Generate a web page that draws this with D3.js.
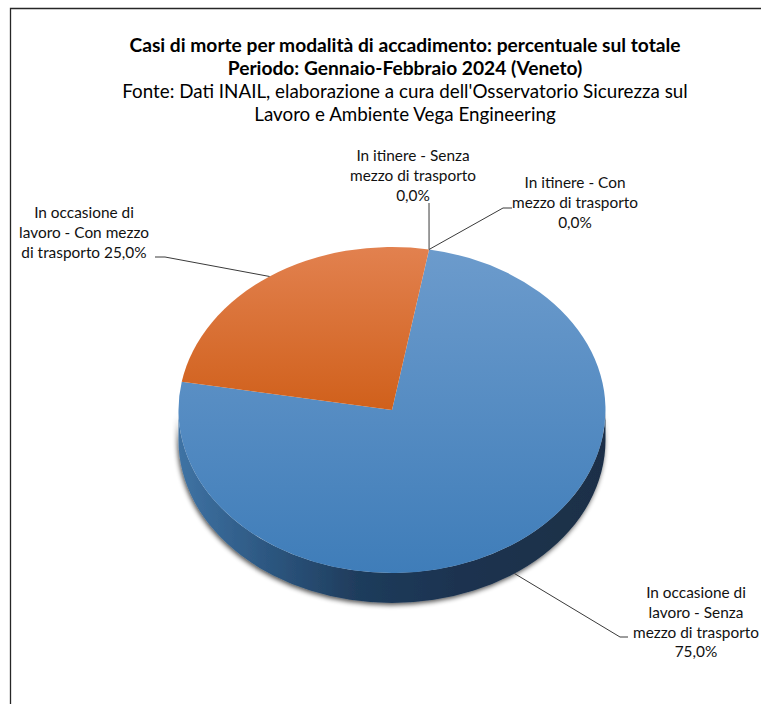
<!DOCTYPE html>
<html>
<head>
<meta charset="utf-8">
<script src="https://cdn.jsdelivr.net/npm/d3@7/dist/d3.min.js"></script>
<style>
  html, body { margin: 0; padding: 0; background: #fff; }
  svg { display: block; }
  text { font-family: Lato, "Noto Sans", sans-serif; }
</style>
</head>
<body>
<svg id="chart" width="761" height="704"></svg>
<script>
// ---------- DATA ----------
const categories = [
  "In occasione di lavoro - Senza mezzo di trasporto",
  "In occasione di lavoro - Con mezzo di trasporto",
  "In itinere - Senza mezzo di trasporto",
  "In itinere - Con mezzo di trasporto"
];
const values = [75, 25, 0, 0];
// label text broken the way the original wraps it; {p} = percentage
const labelWraps = [
  ["In occasione di", "lavoro - Senza", "mezzo di trasporto", "{p}"],
  ["In occasione di", "lavoro - Con mezzo", "di trasporto {p}"],
  ["In itinere - Senza", "mezzo di trasporto", "{p}"],
  ["In itinere - Con", "mezzo di trasporto", "{p}"]
];
const titleLines = [
  "Casi di morte per modalità di accadimento: percentuale sul totale",
  "Periodo: Gennaio-Febbraio 2024 (Veneto)",
  "Fonte: Dati INAIL, elaborazione a cura dell'Osservatorio Sicurezza sul",
  "Lavoro e Ambiente Vega Engineering"
];

// ---------- LAYOUT ----------
const W = 761, H = 704;
const cx = 392, cy = 410, rx = 213.5, ry = 163, depth = 30;
const startDeg = 10;
const svg = d3.select("#chart");

// frame (top + left border)
svg.append("path").attr("d", `M10.5,${H} L10.5,8.5 L${W},8.5`)
  .attr("fill", "none").attr("stroke", "#262626").attr("stroke-width", 1.3);

// title
const titleG = svg.append("g").attr("text-anchor", "middle").attr("fill", "#000");
const titleBase = [52, 75, 98, 121];
titleLines.forEach((t, i) => {
  titleG.append("text").attr("x", 405).attr("y", titleBase[i])
    .attr("font-size", i < 2 ? 19.2 : 18.8)
    .attr("font-weight", i < 2 ? "bold" : "normal")
    .text(t);
});

// colours
const topColors = d3.scaleOrdinal().domain(categories)
  .range([["#6C9BCC", "#3F7DB9"], ["#E2814F", "#D0601B"], ["#9BBB59", "#9BBB59"], ["#8064A2", "#8064A2"]]);

const defs = svg.append("defs");
categories.forEach((c, i) => {
  const g = defs.append("linearGradient").attr("id", "top" + i)
    .attr("x1", 0).attr("y1", 0).attr("x2", 0).attr("y2", 1);
  g.append("stop").attr("offset", 0).attr("stop-color", topColors(c)[0]);
  g.append("stop").attr("offset", 1).attr("stop-color", topColors(c)[1]);
});
const sideGrad = defs.append("linearGradient").attr("id", "side")
  .attr("gradientUnits", "userSpaceOnUse")
  .attr("x1", cx - rx).attr("x2", cx + rx).attr("y1", 0).attr("y2", 0);
[[0, "#3F73A4"], [0.2, "#2D5882"], [0.42, "#1F3C5C"], [0.65, "#1B3350"], [1, "#1A2F47"]]
  .forEach(([o, c]) => sideGrad.append("stop").attr("offset", o).attr("stop-color", c));
const shadow = defs.append("filter").attr("id", "shadow")
  .attr("x", "-10%").attr("y", "-10%").attr("width", "120%").attr("height", "130%");
shadow.append("feGaussianBlur").attr("in", "SourceAlpha").attr("stdDeviation", 2.6).attr("result", "b");
shadow.append("feOffset").attr("in", "b").attr("dx", -1).attr("dy", 2).attr("result", "o");
shadow.append("feComponentTransfer").attr("in", "o").attr("result", "s")
  .append("feFuncA").attr("type", "linear").attr("slope", 0.7);
const merge = shadow.append("feMerge");
merge.append("feMergeNode").attr("in", "s");
merge.append("feMergeNode").attr("in", "SourceGraphic");

// pie layout
const total = d3.sum(values);
const pie = d3.pie().sort(null).value(d => d)
  .startAngle(startDeg * Math.PI / 180).endAngle((startDeg + 360) * Math.PI / 180);
const arcs = pie(values);

const px = a => cx + rx * Math.sin(a);
const py = (a, dz = 0) => cy - ry * Math.cos(a) + dz;

function topPath(d) {
  if (d.endAngle - d.startAngle <= 0) return "";
  const large = d.endAngle - d.startAngle > Math.PI ? 1 : 0;
  return `M${cx},${cy} L${px(d.startAngle)},${py(d.startAngle)} ` +
    `A${rx},${ry} 0 ${large} 1 ${px(d.endAngle)},${py(d.endAngle)} Z`;
}
// visible outer wall: the part of each slice in the front half (90°..270°)
function sidePath(d) {
  const fa = Math.PI / 2, fb = 3 * Math.PI / 2;
  const segs = [];
  for (const k of [0, 2 * Math.PI]) {
    const a0 = Math.max(d.startAngle, fa + k), a1 = Math.min(d.endAngle, fb + k);
    if (a1 > a0) segs.push([a0, a1]);
  }
  return segs.map(([a0, a1]) => {
    const large = a1 - a0 > Math.PI ? 1 : 0;
    return `M${px(a0)},${py(a0)} A${rx},${ry} 0 ${large} 1 ${px(a1)},${py(a1)} ` +
      `L${px(a1)},${py(a1, depth)} A${rx},${ry} 0 ${large} 0 ${px(a0)},${py(a0, depth)} Z`;
  }).join(" ");
}

const pieG = svg.append("g");
pieG.append("g").attr("filter", "url(#shadow)")
  .selectAll("path").data(arcs).join("path")
  .attr("d", sidePath).attr("fill", "url(#side)");
pieG.append("g").selectAll("path").data(arcs).join("path")
  .attr("d", topPath).attr("fill", (d, i) => `url(#top${i})`);

// labels
const fmt = v => d3.format(".1f")(v / total * 100).replace(".", ",") + "%";
const labelCfg = [
  { x: 696, y: 598, edge: "bottom", elbow: [620, 637], end: [628, 637] },
  { x: 84,  y: 218, edge: "top",    elbow: [165, 257], end: [155, 257] },
  { x: 413, y: 161, edge: "top",    elbow: null,       end: [429, 203] },
  { x: 575, y: 188, edge: "top",    elbow: [503, 208], end: [512, 208] }
];
const lineH = 19.8;
const labG = svg.append("g").attr("text-anchor", "middle").attr("fill", "#111").attr("font-size", 15.4);
const leadG = svg.append("g").attr("fill", "none").attr("stroke", "#3a3a3a").attr("stroke-width", 1);

arcs.forEach((d, i) => {
  const cfg = labelCfg[i];
  const mid = (d.startAngle + d.endAngle) / 2;
  const ax = px(mid), ay = py(mid, cfg.edge === "bottom" ? depth : 0);
  const pts = [[ax, ay]];
  if (cfg.elbow) pts.push(cfg.elbow);
  pts.push(cfg.end);
  leadG.append("path").attr("d", d3.line()(pts));
  const t = labG.append("text");
  labelWraps[i].forEach((ln, j) => {
    t.append("tspan").attr("x", cfg.x).attr("y", cfg.y + j * lineH)
      .text(ln.replace("{p}", fmt(d.value)));
  });
});
</script>
</body>
</html>
